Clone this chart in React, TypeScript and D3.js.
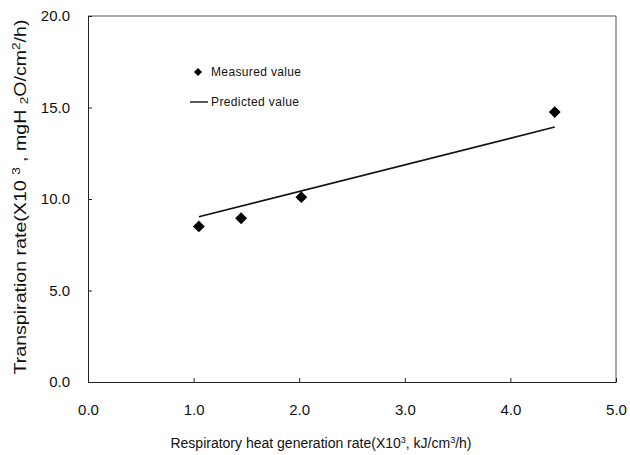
import { useEffect, useRef } from "react";
import * as d3 from "d3";

const measuredX = [1.05, 1.45, 2.02, 4.42];
const measuredY = [8.5, 8.95, 10.1, 14.75];
const predictedX = [1.05, 4.42];
const predictedY = [9.03, 13.93];
const xTicks = [0, 1, 2, 3, 4, 5];
const yTicks = [0, 5, 10, 15, 20];

export default function App() {
  const ref = useRef<SVGSVGElement | null>(null);

  useEffect(() => {
    if (!ref.current) return;
    const svg = d3.select(ref.current);
    svg.selectAll("*").remove();

    const width = 630, height = 455;
    const margin = { top: 16, right: 14, bottom: 73, left: 88 };
    const font = "'Liberation Sans', Arial, sans-serif";

    const x = d3.scaleLinear().domain([0, 5]).range([margin.left, width - margin.right]);
    const y = d3.scaleLinear().domain([0, 20]).range([height - margin.bottom, margin.top]);

    // frame (top/right)
    svg.append("path")
      .attr("d", `M${x(0)},${y(20)}H${x(5)}V${y(0)}`)
      .attr("fill", "none").attr("stroke", "#555").attr("stroke-width", 1);

    const xAxis = svg.append("g")
      .attr("transform", `translate(0,${y(0)})`)
      .call(d3.axisBottom(x).tickValues(xTicks).tickSizeInner(-4).tickSizeOuter(0).tickPadding(22).tickFormat(d3.format(".1f")));
    xAxis.select(".domain").attr("stroke", "#222");
    xAxis.selectAll("line").attr("stroke", "#222");
    xAxis.selectAll("text").attr("font-size", 15).attr("font-family", font).attr("fill", "#111");

    const yAxis = svg.append("g")
      .attr("transform", `translate(${x(0)},0)`)
      .call(d3.axisLeft(y).tickValues(yTicks).tickSizeInner(-4).tickSizeOuter(0).tickPadding(18).tickFormat(d3.format(".1f")));
    yAxis.select(".domain").attr("stroke", "#222");
    yAxis.selectAll("line").attr("stroke", "#222");
    yAxis.selectAll("text").attr("font-size", 15).attr("font-family", font).attr("fill", "#111");

    // predicted line
    const line = d3.line<number>().x((d, i) => x(predictedX[i])).y(d => y(d));
    svg.append("path")
      .attr("d", line(predictedY))
      .attr("fill", "none").attr("stroke", "#111").attr("stroke-width", 1.6);

    // measured points (square rotated 45°)
    const diamond = d3.symbol().type(d3.symbolSquare).size(70);
    svg.append("g").selectAll("path")
      .data(measuredY)
      .join("path")
      .attr("d", diamond)
      .attr("transform", (d, i) => `translate(${x(measuredX[i])},${y(d)}) rotate(45)`)
      .attr("fill", "#000");

    // legend
    const lg = svg.append("g").attr("font-family", font).attr("font-size", 12).attr("fill", "#111");
    lg.append("path").attr("d", d3.symbol().type(d3.symbolSquare).size(32)).attr("transform", "translate(198,72) rotate(45)").attr("fill", "#000");
    lg.append("text").attr("x", 211).attr("y", 76).attr("textLength", 90).text("Measured value");
    lg.append("line").attr("x1", 190).attr("x2", 208).attr("y1", 102).attr("y2", 102).attr("stroke", "#111").attr("stroke-width", 1.4);
    lg.append("text").attr("x", 211).attr("y", 106).attr("textLength", 88).text("Predicted value");

    // x title
    const xt = svg.append("text")
      .attr("x", 321).attr("y", 448).attr("text-anchor", "middle")
      .attr("font-family", font).attr("font-size", 14).attr("fill", "#111");
    xt.append("tspan").text("Respiratory heat generation rate(X10");
    xt.append("tspan").attr("baseline-shift", "super").attr("font-size", 9).text("3");
    xt.append("tspan").text(", kJ/cm");
    xt.append("tspan").attr("baseline-shift", "super").attr("font-size", 9).text("3");
    xt.append("tspan").text("/h)");

    // y title
    const yt = svg.append("text")
      .attr("transform", `translate(26,${197}) rotate(-90)`)
      .attr("text-anchor", "middle")
      .attr("textLength", 355).attr("lengthAdjust", "spacingAndGlyphs")
      .attr("font-family", font).attr("font-size", 16).attr("fill", "#111");
    yt.append("tspan").text("Transpiration rate(X10 ");
    yt.append("tspan").attr("baseline-shift", "super").attr("font-size", 11).text("3");
    yt.append("tspan").text(" ,  mgH ");
    yt.append("tspan").attr("baseline-shift", "-2").attr("font-size", 11).text("2");
    yt.append("tspan").text("O/cm");
    yt.append("tspan").attr("baseline-shift", "super").attr("font-size", 11).text("2");
    yt.append("tspan").text("/h)");
  }, []);

  return (
    <svg ref={ref} width={630} height={455} style={{ position: "absolute", left: 0, top: 0, background: "#fff" }} />
  );
}
